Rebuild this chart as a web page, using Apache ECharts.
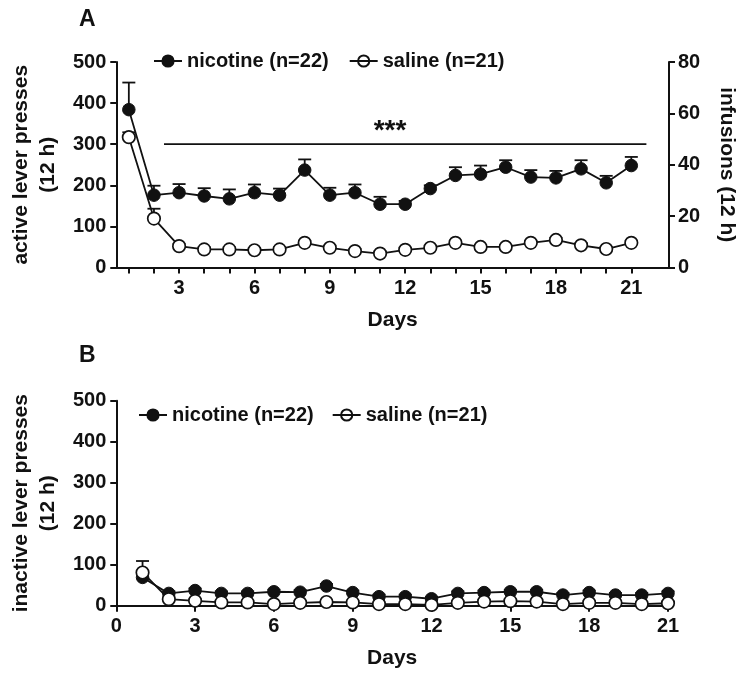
<!DOCTYPE html>
<html>
<head>
<meta charset="utf-8">
<script src="https://cdn.jsdelivr.net/npm/echarts@6/dist/echarts.min.js"></script>
<style>
html,body{margin:0;padding:0;background:#fff;}
#chart{width:748px;height:680px;}
</style>
</head>
<body>
<div id="chart"></div>
<script>
// ---------- data ----------
const days = [1,2,3,4,5,6,7,8,9,10,11,12,13,14,15,16,17,18,19,20,21];
const labelDaysA = [3,6,9,12,15,18,21];
// Panel A: active lever presses (12 h)
const nicActive    = [384,176,182,174,167,182,176,237,176,182,154,154,192,224,227,244,220,218,240,206,248];
const nicActiveSem = [66,23,21,19,23,20,16,26,18,20,18,8,8,20,21,17,17,17,21,17,21];
const salActive    = [317,119,52,44,44,42,44,60,48,40,34,43,48,60,50,50,60,67,54,45,60];
const salActiveSem = [12,24,5,5,5,5,5,5,5,5,5,5,5,5,5,5,5,5,5,5,5];
// Panel B: inactive lever presses (12 h)
const nicInactive    = [69,30,37,30,30,34,33,48,32,22,22,17,30,32,34,34,26,32,26,26,30];
const nicInactiveSem = [10,5,5,5,5,5,5,5,5,5,5,5,5,5,5,5,5,5,5,5,5];
const salInactive    = [81,16,12,8,8,4,7,9,8,4,4,2,7,10,11,10,4,7,7,4,6];
const salInactiveSem = [28,4,4,4,4,4,4,4,4,4,4,4,4,4,4,4,4,4,4,4,4];
// significance bar (panel A)
const sigSpan = [2.4, 21.6];
const sigLevel = 300;
const nicName = 'nicotine (n=22)';
const salName = 'saline (n=21)';

// ---------- styling ----------
const FONT = "'Liberation Sans', Arial, sans-serif";
const INK = '#111';
const axisLine = {lineStyle:{color:INK, width:2}};
const axisTick = {length:6, lineStyle:{color:INK, width:2}};
const labelStyle = {color:INK, fontFamily:FONT, fontWeight:'bold', fontSize:20};

const pairs = (xs, ys) => xs.map((x,i)=>[x, ys[i]]);
const errData = (xs, ys, sem) => xs.map((x,i)=>[x, ys[i], ys[i]+sem[i]]);

function errRender(params, api){
  const x = api.value(0), m = api.value(1), t = api.value(2);
  const p0 = api.coord([x,m]);
  const p1 = api.coord([x,t]);
  const hw = 6.5;
  const st = {stroke:INK, lineWidth:1.8};
  return {type:'group', children:[
    {type:'line', shape:{x1:p0[0],y1:p0[1],x2:p1[0],y2:p1[1]}, style:st},
    {type:'line', shape:{x1:p1[0]-hw,y1:p1[1],x2:p1[0]+hw,y2:p1[1]}, style:st}
  ]};
}

function lineSeries(name, data, filled, xi, yi, z){
  return {
    type:'line', name, data, xAxisIndex:xi, yAxisIndex:yi,
    symbol:'circle', symbolSize:12.5, showAllSymbol:true, z,
    lineStyle:{color:INK, width:1.8},
    itemStyle: filled ? {color:INK, borderColor:INK, borderWidth:1}
                      : {color:'#fff', borderColor:INK, borderWidth:1.7},
    emphasis:{disabled:true}
  };
}
function errSeries(data, xi, yi){
  return {type:'custom', renderItem:errRender, data, xAxisIndex:xi, yAxisIndex:yi, z:1, silent:true};
}

const legendCommon = {
  orient:'horizontal', itemHeight:14,
  textStyle:{color:INK, fontFamily:FONT, fontWeight:'bold', fontSize:20},
  selectedMode:false,
  data:[{name:nicName},{name:salName, itemStyle:{color:'rgba(255,255,255,0)'}}]
};

const option = {
  animation:false,
  backgroundColor:'#fff',
  grid:[
    {left:112, top:62, width:557, height:205.5},
    {left:112, top:400.7, width:556, height:205}
  ],
  legend:[
    Object.assign({}, legendCommon, {left:148, top:46, itemWidth:28, itemGap:20}),
    Object.assign({}, legendCommon, {left:133, top:400, itemWidth:28, itemGap:18})
  ],
  xAxis:[
    {type:'value', gridIndex:0, min:0.5, max:22.5,
     axisLine, splitLine:{show:false},
     axisTick:Object.assign({customValues:days}, axisTick),
     axisLabel:Object.assign({customValues:labelDaysA, margin:11}, labelStyle),
     name:'Days', nameLocation:'middle', nameGap:42,
     nameTextStyle:{color:INK, fontFamily:FONT, fontWeight:'bold', fontSize:21}},
    {type:'value', gridIndex:1, min:0, max:21, interval:3,
     axisLine, splitLine:{show:false}, axisTick,
     axisLabel:Object.assign({margin:11}, labelStyle),
     name:'Days', nameLocation:'middle', nameGap:42,
     nameTextStyle:{color:INK, fontFamily:FONT, fontWeight:'bold', fontSize:21}}
  ],
  yAxis:[
    {type:'value', gridIndex:0, min:0, max:500, interval:100, position:'left',
     axisLine:Object.assign({show:true}, axisLine), axisTick:Object.assign({show:true}, axisTick),
     splitLine:{show:false}, axisLabel:Object.assign({margin:10}, labelStyle),
     name:'active lever presses\n(12 h)', nameLocation:'middle', nameRotate:90, nameGap:52,
     nameTextStyle:{color:INK, fontFamily:FONT, fontWeight:'bold', fontSize:21, lineHeight:27, align:'center'}},
    {type:'value', gridIndex:0, min:0, max:80, interval:20, position:'right',
     axisLine:Object.assign({show:true}, axisLine), axisTick:Object.assign({show:true}, axisTick),
     splitLine:{show:false}, axisLabel:Object.assign({margin:9}, labelStyle),
     name:'infusions (12 h)', nameLocation:'middle', nameRotate:-90, nameGap:47,
     nameTextStyle:{color:INK, fontFamily:FONT, fontWeight:'bold', fontSize:21}},
    {type:'value', gridIndex:1, min:0, max:500, interval:100, position:'left',
     axisLine:Object.assign({show:true}, axisLine), axisTick:Object.assign({show:true}, axisTick),
     splitLine:{show:false}, axisLabel:Object.assign({margin:10}, labelStyle),
     name:'inactive lever presses\n(12 h)', nameLocation:'middle', nameRotate:90, nameGap:52,
     nameTextStyle:{color:INK, fontFamily:FONT, fontWeight:'bold', fontSize:21, lineHeight:27, align:'center'}}
  ],
  series:[
    // panel A
    errSeries(errData(days, nicActive, nicActiveSem), 0, 0),
    errSeries(errData(days, salActive, salActiveSem), 0, 0),
    lineSeries(salName, pairs(days, salActive), false, 0, 0, 3),
    lineSeries(nicName, pairs(days, nicActive), true, 0, 0, 4),
    {type:'line', data:[[sigSpan[0], sigLevel],[sigSpan[1], sigLevel]], xAxisIndex:0, yAxisIndex:0,
     symbol:'none', lineStyle:{color:INK, width:1.8}, silent:true, z:2},
    // panel B
    errSeries(errData(days, nicInactive, nicInactiveSem), 1, 2),
    errSeries(errData(days, salInactive, salInactiveSem), 1, 2),
    lineSeries(nicName, pairs(days, nicInactive), true, 1, 2, 3),
    lineSeries(salName, pairs(days, salInactive), false, 1, 2, 4)
  ],
  graphic:[
    {type:'text', left:79, top:8, style:{text:'A', fill:INK, font:"bold 23px "+FONT}},
    {type:'text', left:79, top:344, style:{text:'B', fill:INK, font:"bold 23px "+FONT}},
    {type:'text', x:390, y:131, style:{text:'***', fill:INK, font:"bold 28px "+FONT, align:'center', verticalAlign:'middle'}}
  ]
};

const chart = echarts.init(document.getElementById('chart'), null, {renderer:'canvas'});
chart.setOption(option);
</script>
</body>
</html>
